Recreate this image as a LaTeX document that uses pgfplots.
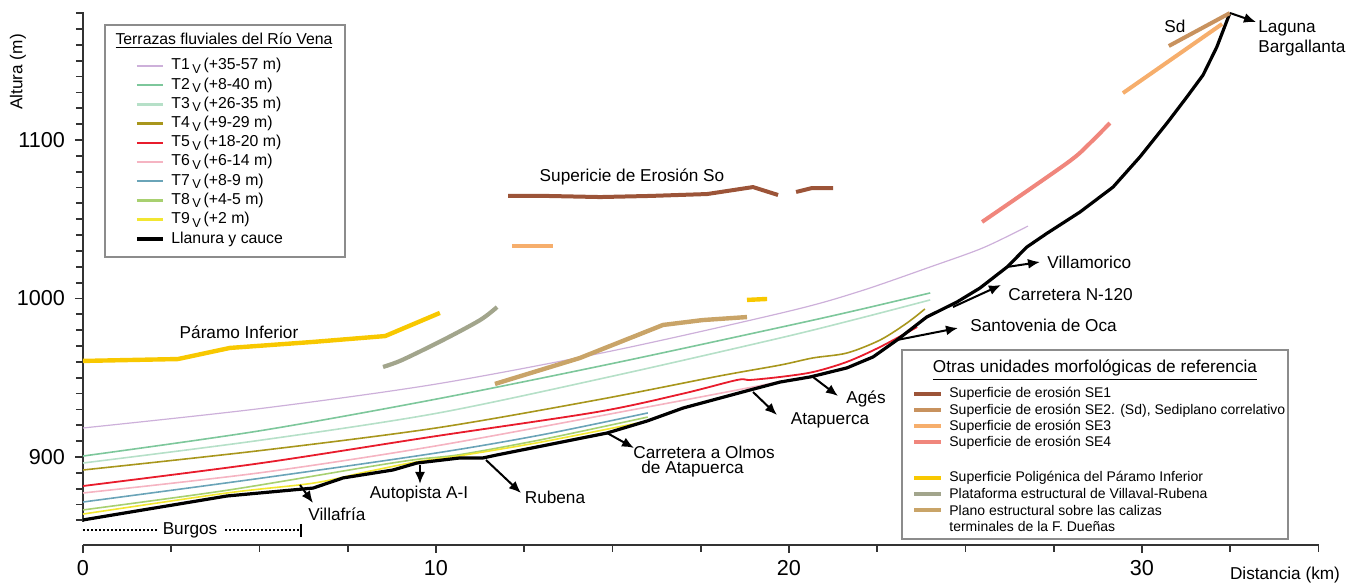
\documentclass[border=0pt]{standalone}
\usepackage{pgfplots}
\pgfplotsset{compat=1.18}
\usepackage{fontspec}
\setmainfont{Liberation Sans}
\usetikzlibrary{arrows.meta}
\definecolor{cT1}{HTML}{CDB0DA}
\definecolor{cT2}{HTML}{7DC79B}
\definecolor{cT3}{HTML}{B6E0C8}
\definecolor{cT4}{HTML}{A8961C}
\definecolor{cT5}{HTML}{E81C2C}
\definecolor{cT6}{HTML}{F5B4C2}
\definecolor{cT7}{HTML}{6AA4B8}
\definecolor{cT8}{HTML}{A8D070}
\definecolor{cT9}{HTML}{F2E631}
\definecolor{cSE1}{HTML}{9C5438}
\definecolor{cSE2}{HTML}{C8925E}
\definecolor{cSE3}{HTML}{F6AE6C}
\definecolor{cSE4}{HTML}{F0867C}
\definecolor{cPar}{HTML}{F8C800}
\definecolor{cVil}{HTML}{A2A58C}
\definecolor{cPla}{HTML}{C9A468}
\newcommand{\ann}{\fontsize{8.6}{10.3}\selectfont}
\newcommand{\lgA}{\fontsize{7.9}{9}\selectfont}
\newcommand{\lgB}{\fontsize{7}{8.4}\selectfont}
\newcommand{\subV}{\,\raisebox{-0.45ex}{\fontsize{6.4}{7}\selectfont V}\,}
\begin{document}
\begin{tikzpicture}
\begin{axis}[
  x=17.65pt, y=0.7925pt,
  xmin=0, xmax=35, ymin=859, ymax=1181,
  axis lines=left,
  axis line style={-, line width=1.1pt, draw=black!80},
  axis x line shift=11.5pt,
  xtick={0,10,20,30}, xticklabels={0,10,20,30},
  minor xtick={2.5,5,...,35},
  ytick={900,1000,1100}, yticklabels={900,1000,1100},
  minor ytick={860,870,...,1180},
  tick align=outside,
  major tick length=4pt, minor tick length=3.5pt,
  tick style={line width=0.9pt, black!80},
  ticklabel style={font=\fontsize{10.8}{12}\selectfont},
  yticklabel style={xshift=-1.5pt},
  clip=false,
  scale only axis,
]
% terraces
\addplot[cT1, line width=0.6pt, smooth] coordinates {(0,918.3)(5,930.5)(10,946)(15,967)(20,992)(22,1004.5)(24,1019.9)(25.5,1032)(26.77,1045.7)};
\addplot[cT2, line width=0.8pt, smooth] coordinates {(0,900.6)(5,916.5)(10,936.5)(15,959)(20,983)(22,993)(24,1003.5)};
\addplot[cT3, line width=0.8pt, smooth] coordinates {(0,896.2)(5,910.5)(10,927.5)(15,951)(19.75,975.1)(22,987.5)(24,999.1)};
\addplot[cT4, line width=0.8pt, smooth, tension=0.5] coordinates {(0,891.8)(5,904)(10,918.3)(14.56,936)(18,951)(19.75,958)(20.68,962.5)(21.64,965.6)(22.58,973.8)(23.34,984.5)(23.85,993.4)};
\addplot[cT6, line width=0.8pt, smooth] coordinates {(0,877.3)(5,890)(10,907)(15.98,931.5)(19.26,945.4)(19.8,948)};
\addplot[cT5, line width=0.9pt, smooth, tension=0.5] coordinates {(0,881.7)(5,896)(9.83,912.6)(14.56,928.4)(17,940)(18.53,948.6)(18.9,948.6)(19.75,950.5)(20.68,953.6)(21.64,960)(22.58,969.4)(23.63,982)};
\addplot[cT7, line width=0.8pt, smooth] coordinates {(0,871.6)(5,886.5)(10,902.5)(13,914)(16,927.8)};
\addplot[cT8, line width=0.8pt, smooth] coordinates {(0,866.6)(4.08,879)(8,893.5)(9.46,898.5)(10.68,901.5)(13,911)(16,925.2)};
\addplot[cT9, line width=0.8pt, smooth] coordinates {(0,864)(4.08,877.3)(6.52,883.5)(8,890.5)(9.46,897)(10.68,900.8)(13,909.5)(16,922.7)};
% llanura y cauce
\addplot[black, line width=1.6pt, line join=round] coordinates {(0,860.3)(4.08,875.4)(6.52,880.4)(7.37,886.8)(8.78,891.8)(9.46,896.2)(10.68,899.4)(11.33,899.4)(11.73,901.3)(14.84,915.1)(15.98,922.7)(17.0,930.9)(18.9,942.3)(19.75,947.3)(20.6,950.5)(21.64,956.2)(22.38,963.1)(23.06,973.8)(23.9,988.3)(24.76,997.8)(25.41,1006.6)(26.18,1019.9)(26.74,1032.5)(27.3,1041)(28.24,1054.5)(29.18,1070.3)(29.94,1089.3)(30.71,1110.7)(31.27,1127.1)(31.73,1141.0)(32.12,1158.7)(32.49,1180.1)};
% surfaces
\addplot[cPar, line width=2.2pt, line join=round] coordinates {(0,960.6)(2.69,961.8)(4.16,968.8)(6.52,972.6)(8.56,976.3)(10.11,990.9)};
\addplot[cPar, line width=2.2pt] coordinates {(18.81,999.1)(19.38,999.7)};
\addplot[cVil, line width=2.1pt, smooth] coordinates {(8.5,956.8)(9.04,961.2)(10.2,973.8)(11.25,986.4)(11.73,994.6)};
\addplot[cPla, line width=2.2pt, line join=round] coordinates {(11.67,946.1)(14.08,962.5)(16.43,983.3)(17.56,986.4)(18.81,988.3)};
\addplot[cSE1, line width=2pt, line join=round] coordinates {(12.04,1064.7)(13.14,1064.7)(14.65,1064.0)(16.06,1064.7)(17.68,1065.9)(18.98,1070.3)(19.69,1065.3)};
\addplot[cSE1, line width=2pt, line join=round] coordinates {(20.2,1067.2)(20.65,1069.7)(21.25,1069.7)};
\addplot[cSE3, line width=2pt] coordinates {(12.15,1033.1)(13.31,1033.1)};
\addplot[cSE3, line width=2pt] coordinates {(29.46,1129.6)(32.27,1173.2)};
\addplot[cSE2, line width=2pt] coordinates {(30.76,1159.3)(32.49,1180.1)};
\addplot[cSE4, line width=2pt, smooth] coordinates {(25.47,1048.3)(27.88,1085.5)(28.53,1098.1)(29.09,1110.7)};
\coordinate (O) at (axis cs:0,900);
\end{axis}
\begin{scope}[shift={(O)}, xshift=-41.5pt, yshift=228.5pt, x=0.5pt, y=-0.5pt]
% axis labels
\node[rotate=90, inner sep=0, font=\fontsize{8.6}{10}\selectfont] at (18,72) {Altura (m)};
\node[inner sep=0, font=\fontsize{8.6}{10}\selectfont] at (1285,575) {Distancia (km)};
% arrows
\begin{scope}[line width=1pt, -{Latex[length=6pt,width=5pt]}]
\draw (300,485) -- (313,503);
\draw (420,465) -- (420,484);
\draw (486,460) -- (521,493);
\draw (607,433) -- (634,448);
\draw (753,392) -- (777,415);
\draw (813,377) -- (838,396);
\draw (897,340) -- (958,328);
\draw (953,307) -- (1001,285);
\draw (1007,267) -- (1040,262);
\draw (1230,13) -- (1256,22);
\end{scope}
% annotation texts
\begin{scope}[every node/.style={inner sep=0, font=\ann}]
\node at (337,514) {Villafría};
\node at (419,494) {Autopista A-I};
\node at (555,497) {Rubena};
\node[anchor=west] at (633,452) {Carretera a Olmos};
\node[anchor=west] at (641,469) {de Atapuerca};
\node at (830,420) {Atapuerca};
\node at (866,399) {Agés};
\node[anchor=west] at (970,325) {Santovenia de Oca};
\node[anchor=west] at (1008,295) {Carretera N-120};
\node[anchor=west] at (1047,262) {Villamorico};
\node[anchor=west] at (1258,28) {Laguna};
\node[anchor=west] at (1258,48) {Bargallanta};
\node at (1175,26) {Sd};
\node at (632,177) {Supericie de Erosión So};
\node at (239,332) {Páramo Inferior};
\node at (190,530) {Burgos};
\end{scope}
% Burgos extent
\draw[line width=1pt, densely dotted] (83,530) -- (157,530);
\draw[line width=1pt, densely dotted] (225,530) -- (301,530);
\draw[line width=1pt] (301,524) -- (301,537);
% left legend
\draw[fill=white, draw=black!45, line width=0.8pt] (105,25) rectangle (345,257);
\node[inner sep=0, font=\lgA] at (224,41) {\underline{Terrazas fluviales del Río Vena}};
\foreach \c/\t [count=\i from 0] in {cT1/T1\subV(+35-57 m), cT2/T2\subV(+8-40 m), cT3/T3\subV(+26-35 m), cT4/T4\subV(+9-29 m), cT5/T5\subV(+18-20 m), cT6/T6\subV(+6-14 m), cT7/T7\subV(+8-9 m), cT8/T8\subV(+4-5 m), cT9/T9\subV(+2 m)} {
  \draw[\c, line width=1.2pt] (137,{66+19.2*\i}) -- (163,{66+19.2*\i});
  \node[anchor=west, inner sep=0, font=\lgA] at (171,{66+19.2*\i}) {\t};
}
\draw[black, line width=1.8pt] (137,239) -- (163,239);
\node[anchor=west, inner sep=0, font=\lgA] at (171,239) {Llanura y cauce};
% right legend
\draw[fill=white, draw=black!45, line width=0.8pt] (902,350) rectangle (1288,539);
\node[inner sep=0, font=\fontsize{8.6}{10}\selectfont] at (1095,370) {\underline{Otras unidades morfológicas de referencia}};
\foreach \c/\y/\t in {cSE1/394/Superficie de erosión SE1, cSE2/410.5/{Superficie de erosión SE2. (Sd), Sediplano correlativo}, cSE3/426.5/Superficie de erosión SE3, cSE4/442.5/Superficie de erosión SE4, cPar/478/Superficie Poligénica del Páramo Inferior, cVil/494/Plataforma estructural de Villaval-Rubena, cPla/510.5/Plano estructural sobre las calizas} {
  \draw[\c, line width=2pt] (914,\y) -- (941,\y);
  \node[anchor=west, inner sep=0, font=\lgB] at (949,\y) {\t};
}
\node[anchor=west, inner sep=0, font=\lgB] at (949,526.5) {terminales de la F. Dueñas};
\pgfresetboundingbox
\path[use as bounding box] (0,0) rectangle (1346,583);
\end{scope}
\end{tikzpicture}
\end{document}
